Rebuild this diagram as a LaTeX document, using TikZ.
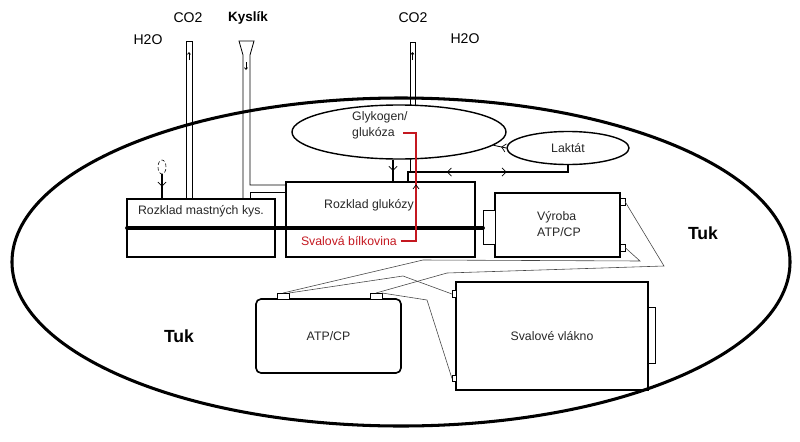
\documentclass[tikz,border=0pt]{standalone}
\usepackage{fontspec}
\setmainfont{Liberation Sans}
\usetikzlibrary{arrows.meta,calc,decorations.markings,shapes.geometric}
\definecolor{svred}{RGB}{196,24,32}
\definecolor{wiregray}{RGB}{70,70,70}
\tikzset{chevtip/.tip={Straight Barb[length=3.5pt,width=7pt,line width=0.6pt]}}

\begin{document}
\begin{tikzpicture}[x=0.03cm, y=-0.03cm,
  box/.style={draw, line width=1.4pt, inner sep=0pt, outer sep=0pt},
  pad/.style={draw, line width=0.8pt, inner sep=0pt, outer sep=0pt, fill=white},
  lbl/.style={font=\fontsize{10.5}{14}\selectfont, text=black!85, inner sep=0pt, align=left},
  toplbl/.style={font=\fontsize{12}{14}\selectfont, inner sep=0pt},
  tuklbl/.style={font=\fontsize{15}{17}\selectfont\bfseries, inner sep=0pt},
  tube/.style={line width=0.7pt},
  wire/.style={line width=0.5pt, wiregray},
  flow/.style={line width=1.8pt},
  midv/.style={decoration={markings, mark=at position #1 with {\arrow{chevtip}}}, postaction={decorate}}]
  \useasboundingbox (0,0) rectangle (800,442);

  % Body outline
  \node[draw, ellipse, line width=2.6pt, minimum width=23.34cm, minimum height=9.84cm, inner sep=0pt] (body) at (401,262) {};

  %--- Top labels ---
  \node[toplbl] (h2oL) at (148,40) {H2O};
  \node[toplbl] (co2L) at (188,18) {CO2};
  \node[toplbl, font=\fontsize{11.5}{14}\selectfont\bfseries] (kyslik) at (248,18) {Kyslík};
  \node[toplbl] (co2R) at (413,18) {CO2};
  \node[toplbl] (h2oR) at (465,39) {H2O};

  %--- Breakdown boxes ---
  \node[box, minimum width=4.44cm, minimum height=1.74cm] (mastne) at (201,228) {};
  \node[lbl] (mastneLbl) at (201,211) {Rozklad mastných kys.};
  \node[box, minimum width=5.67cm, minimum height=2.25cm] (glukoza) at (380.5,219.5) {};
  \node[lbl] (glukozaLbl) at (369,205) {Rozklad glukózy};
  \node[lbl, text=svred, anchor=east] (bilkovina) at (397,241) {Svalová bílkovina};

  %--- ATP/CP production ---
  \node[box, minimum width=3.75cm, minimum height=1.92cm] (vyroba) at (557.5,225) {};
  \node[lbl, anchor=west] (vyrobaLbl) at (537,224) {Výroba\\ATP/CP};
  \node[pad, minimum width=0.36cm, minimum height=1.02cm, anchor=east] (vtab) at (vyroba.west |- 0,227) {};
  \node[pad, minimum width=0.15cm, minimum height=0.21cm, anchor=west] (vtermA) at (vyroba.east |- 0,201.5) {};
  \node[pad, minimum width=0.15cm, minimum height=0.21cm, anchor=west] (vtermB) at (vyroba.east |- 0,247.5) {};

  %--- Stores ---
  \node[draw, ellipse, line width=1.2pt, minimum width=6.42cm, minimum height=1.62cm, inner sep=0pt] (glyko) at (399,132) {};
  \node[lbl, anchor=west] (glykoLbl) at (352,125.5) {Glykogen/\\glukóza};
  \node[draw, ellipse, lbl, line width=1.2pt, minimum width=3.66cm, minimum height=0.99cm] (laktat) at (568,148) {Laktát};
  \node[draw, ellipse, densely dashed, line width=0.5pt, minimum width=0.24cm, minimum height=0.42cm, inner sep=0pt] (kapka) at (162,167) {};

  %--- ATP/CP and fibre ---
  \node[box, lbl, rounded corners=0.15cm, minimum width=4.35cm, minimum height=2.22cm, align=center] (atp) at (328.5,336) {ATP/CP};
  \node[pad, minimum width=0.36cm, minimum height=0.18cm, anchor=south] (atpA) at (283,0 |- atp.north) {};
  \node[pad, minimum width=0.36cm, minimum height=0.18cm, anchor=south] (atpB) at (376,0 |- atp.north) {};
  \node[box, lbl, minimum width=5.76cm, minimum height=3.24cm, align=center] (vlakno) at (552,336) {Svalové vlákno};
  \node[pad, minimum width=0.12cm, minimum height=0.2cm, anchor=east] (vlA) at (vlakno.west |- 0,294) {};
  \node[pad, minimum width=0.12cm, minimum height=0.2cm, anchor=east] (vlB) at (vlakno.west |- 0,378.5) {};
  \node[pad, minimum width=0.21cm, minimum height=1.68cm, anchor=west] (vlTab) at (vlakno.east |- 0,335) {};

  \node[tuklbl] (tukL) at (179,336) {Tuk};
  \node[tuklbl] (tukR) at (703,233) {Tuk};

  %--- Tubes ---
  \draw[tube] (186,0 |- mastne.north) -- (186,41) -- (192,41) -- (192,0 |- mastne.north);
  \draw[tube, -{Straight Barb[length=1.5pt,width=2.5pt]}] (189,60) -- (189,52);
  \draw[tube] (243,0 |- mastne.north) -- (243,55) -- (239,41) -- (254,41) -- (250,55) -- (250,185) -- (glukoza.west |- 0,185);
  \draw[tube] (glukoza.west |- 0,192) -- (250,192) -- (250,0 |- mastne.north);
  \draw[tube, -{Straight Barb[length=1.5pt,width=2.5pt]}] (246,62) -- (246,70);
  \draw[tube] (410,105) -- (410,42) -- (415,42) -- (415,105);
  \draw[tube, -{Straight Barb[length=1.5pt,width=2.5pt]}] (412.5,60) -- (412.5,52);
  \draw[tube] (410,159) -- (410,172);

  %--- Flows ---
  \draw[line width=3.2pt, line cap=round] (mastne.west) -- (mastne.west -| vtab.west);
  \draw[flow, midv=0.5] (kapka.south) -- (kapka.south |- mastne.north);
  \draw[flow, midv=0.5] ($(glyko.south)+(-6,0)$) coordinate (gStart) -- (gStart |- glukoza.north);
  \coordinate (lacJoin) at (408,172);
  \draw[flow, decoration={markings,
      mark=at position 0.386 with {\arrowreversed{chevtip}},
      mark=at position 0.724 with {\arrow{chevtip}}}, postaction={decorate}]
    (laktat.south) |- (lacJoin) -- (lacJoin |- glukoza.north);
  \draw[tube, midv=0.4] (laktat.west) -- (glyko.-8);

  % Muscle protein
  \coordinate (redTop) at (403,133);
  \draw[line width=1.6pt, svred] ([xshift=3pt]bilkovina.east) -| ($(redTop)+(13,0)$) -- (redTop);
  \draw[line width=0.6pt] (413,189) -- (416,185) -- (419,189);

  %--- Wires ---
  \draw[wire] (vtermB.east) -- (640,261) -- (423,260) -- (atpA.north);
  \draw[wire] (vtermA.east) -- (664,266) -- (447,273) -- (atpB.north);
  \draw[wire] (atpA.north east) -- (403,276) -- (vlA.west);
  \draw[wire] (atpB.north east) -- (427,300) -- (vlB.west);
\end{tikzpicture}
\end{document}
